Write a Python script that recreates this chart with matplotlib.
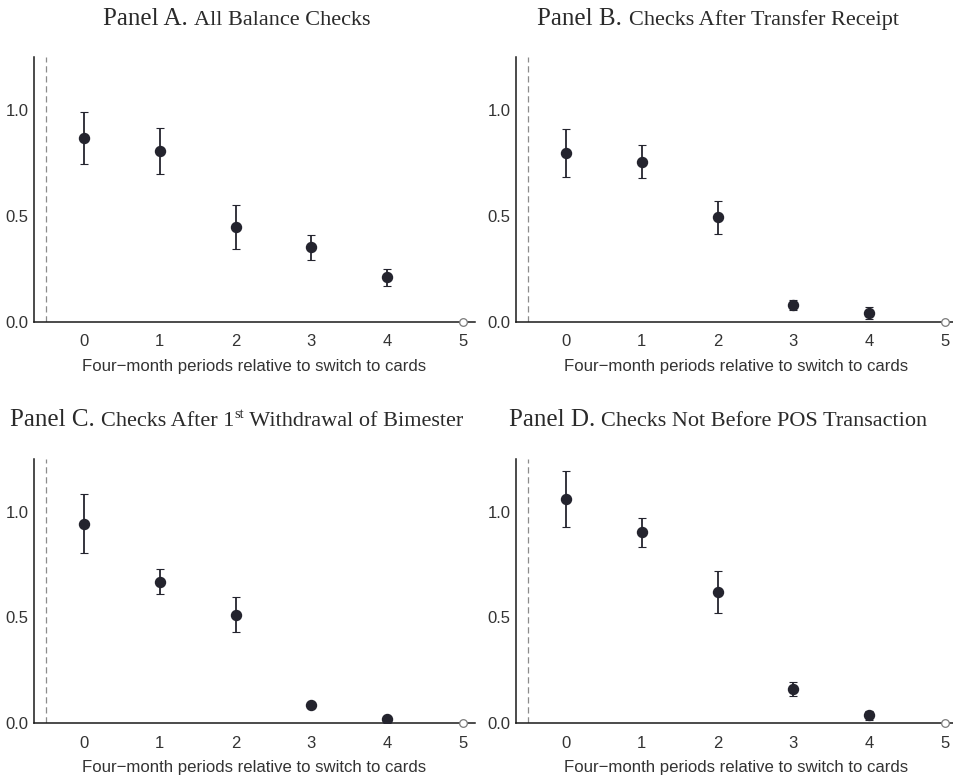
import matplotlib
matplotlib.use("Agg")
import matplotlib.pyplot as plt
import numpy as np

# Periods relative to the switch to cards
periods = [0, 1, 2, 3, 4]
ref_period = 5

# Panel A. All balance checks
a_est = [0.866, 0.807, 0.447, 0.352, 0.211]
a_lo = [0.744, 0.700, 0.343, 0.292, 0.171]
a_hi = [0.991, 0.914, 0.552, 0.409, 0.249]

# Panel B. Checks after transfer receipt
b_est = [0.798, 0.757, 0.494, 0.079, 0.043]
b_lo = [0.683, 0.680, 0.415, 0.055, 0.013]
b_hi = [0.912, 0.834, 0.573, 0.103, 0.072]

# Panel C. Checks after 1st withdrawal of bimester
c_est = [0.943, 0.669, 0.512, 0.086, 0.017]
c_lo = [0.803, 0.611, 0.430, 0.076, 0.011]
c_hi = [1.084, 0.728, 0.595, 0.096, 0.023]

# Panel D. Checks not before POS transaction
d_est = [1.061, 0.903, 0.622, 0.161, 0.036]
d_lo = [0.930, 0.833, 0.522, 0.128, 0.012]
d_hi = [1.191, 0.971, 0.720, 0.195, 0.058]

xlabel = "Four\u2212month periods relative to switch to cards"
yticks = [0.0, 0.5, 1.0]
xticks = [0, 1, 2, 3, 4, 5]

serif = "Liberation Serif"
sans = "Liberation Sans"
dark = "#24242e"

fig = plt.figure(figsize=(9.54, 7.8), dpi=100)

W, H = 954.0, 780.0


def make_ax(left, right, top, bottom):
    return fig.add_axes([left / W, 1 - bottom / H, (right - left) / W, (bottom - top) / H])


axA = make_ax(34, 475, 57, 322)
axB = make_ax(516, 957, 57, 322)
axC = make_ax(34, 475, 459, 723)
axD = make_ax(516, 957, 459, 723)


def draw_panel(ax, est, lo, hi):
    est = np.array(est)
    yerr = [est - np.array(lo), np.array(hi) - est]
    ax.axvline(-0.5, color="#8c8c8c", lw=0.9, ls=(0, (5, 3)), zorder=1)
    ax.errorbar(periods, est, yerr=yerr, fmt="o", color=dark, ms=7.2,
                elinewidth=1.3, capsize=3, capthick=0.8, zorder=3)
    ax.plot([ref_period], [0], "o", ms=5.5, mfc="white", mec="#7a7a7a",
            mew=0.9, zorder=4, clip_on=False)
    ax.set_xlim(-0.66, 5.16)
    ax.set_ylim(0, 1.25)
    ax.set_xticks(xticks)
    ax.set_yticks(yticks)
    ax.set_yticklabels(["%.1f" % v for v in yticks])
    ax.tick_params(length=0, labelsize=12, labelcolor="#333333")
    ax.tick_params(axis="x", pad=9)
    ax.tick_params(axis="y", pad=4)
    for lab in ax.get_xticklabels() + ax.get_yticklabels():
        lab.set_fontfamily(sans)
    for s in ["top", "right"]:
        ax.spines[s].set_visible(False)
    for s in ["left", "bottom"]:
        ax.spines[s].set_linewidth(1.1)
        ax.spines[s].set_color("#1a1a1a")
    ax.set_xlabel(xlabel, fontsize=12.1, family=sans, color="#333333", labelpad=7)


draw_panel(axA, a_est, a_lo, a_hi)
draw_panel(axB, b_est, b_lo, b_hi)
draw_panel(axC, c_est, c_lo, c_hi)
draw_panel(axD, d_est, d_lo, d_hi)


# Titles: mixed size serif pieces, centred over each column
def title(pieces, cx, y):
    texts = []
    for s, size, dy in pieces:
        t = fig.text(0, 0, s, fontsize=size, family=serif, color="#2a2a2a",
                     ha="left", va="baseline")
        texts.append((t, dy))
    fig.canvas.draw()
    r = fig.canvas.get_renderer()
    widths = [t.get_window_extent(r).width for t, _ in texts]
    x = cx - sum(widths) / 2
    for (t, dy), w in zip(texts, widths):
        t.set_position((x / W, 1 - (y - dy) / H))
        x += w


title([("Panel A. ", 18, 0), ("All Balance Checks", 16, 0)], 237, 25)
title([("Panel B. ", 18, 0), ("Checks After Transfer Receipt", 16, 0)], 718, 25)
title([("Panel C. ", 18, 0), ("Checks After 1", 16, 0), ("st", 10.5, 7.5),
       (" Withdrawal of Bimester", 16, 0)], 237, 426)
title([("Panel D. ", 18, 0), ("Checks Not Before POS Transaction", 16, 0)], 718, 426)

fig.savefig("out.png", dpi=100)
